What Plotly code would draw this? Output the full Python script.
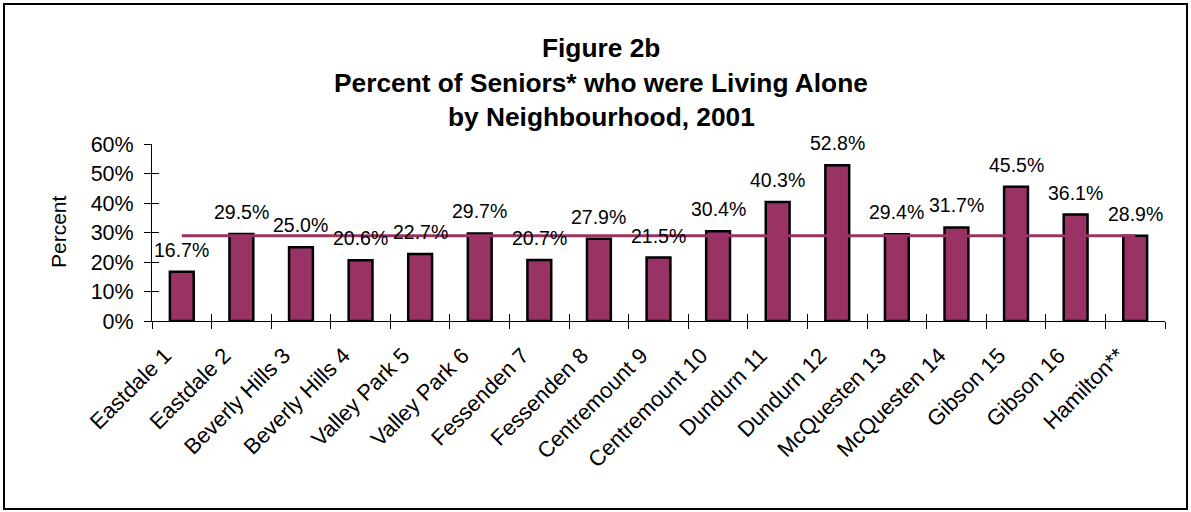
import plotly.graph_objects as go

# data
neighbourhoods = [
    "Eastdale 1", "Eastdale 2", "Beverly Hills 3", "Beverly Hills 4",
    "Valley Park 5", "Valley Park 6", "Fessenden 7", "Fessenden 8",
    "Centremount 9", "Centremount 10", "Dundurn 11", "Dundurn 12",
    "McQuesten 13", "McQuesten 14", "Gibson 15", "Gibson 16", "Hamilton**",
]
pct_alone = [16.7, 29.5, 25.0, 20.6, 22.7, 29.7, 20.7, 27.9, 21.5,
             30.4, 40.3, 52.8, 29.4, 31.7, 45.5, 36.1, 28.9]
hamilton_avg = 28.9
title_lines = [
    "Figure 2b",
    "Percent of Seniors* who were Living Alone",
    "by Neighbourhood, 2001",
]
y_ticks = [0, 10, 20, 30, 40, 50, 60]

# page geometry (pixels)
W, H = 1191, 512
L, R, T, B = 152, 26, 144, 191
PW, PH = W - L - R, H - T - B


def px_x(p):
    return (p - L) / PW


def px_y(p):
    return (H - B - p) / PH


BAR = "#993366"
FONT = "Arial, Liberation Sans, sans-serif"

fig = go.Figure()
fig.add_trace(go.Bar(
    x=neighbourhoods, y=pct_alone,
    marker={"color": BAR, "line": {"color": "#000000", "width": 2.5}},
    hoverinfo="x+y", showlegend=False,
))
# Hamilton reference line (on overlay axes so ticks can cross the axis line)
fig.add_trace(go.Scatter(
    x=neighbourhoods, y=[hamilton_avg] * len(neighbourhoods),
    mode="lines", line={"color": BAR, "width": 3},
    xaxis="x2", yaxis="y2", showlegend=False, hoverinfo="skip",
))

# data labels above bars
for name, v in zip(neighbourhoods, pct_alone):
    fig.add_annotation(
        x=name, y=v, text=f"{v:.1f}%", showarrow=False,
        yanchor="middle", yshift=22,
        font={"size": 19.5, "color": "#000000", "family": FONT},
    )

# title lines
for line, ypix in zip(title_lines, [48, 83, 117]):
    fig.add_annotation(
        xref="paper", yref="paper", x=px_x(601), y=px_y(ypix),
        text=f"<b>{line}</b>", showarrow=False,
        xanchor="center", yanchor="middle",
        font={"size": 26.3, "color": "#000000", "family": FONT},
    )

# y-axis title
fig.add_annotation(
    xref="paper", yref="paper", x=px_x(58), y=px_y(232),
    text="Percent", showarrow=False, textangle=-90,
    xanchor="center", yanchor="middle",
    font={"size": 21, "color": "#000000", "family": FONT},
)

# outer chart border
fig.add_shape(
    type="rect", xref="paper", yref="paper",
    x0=px_x(4), x1=px_x(1187), y0=px_y(509), y1=px_y(4),
    line={"color": "#000000", "width": 2},
)

axis_common = {"showgrid": False, "zeroline": False, "tickcolor": "#000000",
               "ticklen": 7, "tickwidth": 1}

fig.update_layout(
    width=W, height=H,
    margin={"l": L, "r": R, "t": T, "b": B, "autoexpand": False},
    paper_bgcolor="#FFFFFF", plot_bgcolor="#FFFFFF",
    font={"family": FONT, "color": "#000000"},
    bargap=0.6,
    xaxis={**axis_common, "type": "category", "range": [-0.5, 16.5],
           "ticks": "outside", "tickson": "boundaries",
           "showline": True, "linecolor": "#000000", "linewidth": 1,
           "tickangle": -45, "tickfont": {"size": 22},
           "ticklabelshift": -17, "ticklabelstandoff": 12},
    yaxis={**axis_common, "range": [0, 60], "tickvals": y_ticks,
           "ticktext": [f"{t}%" for t in y_ticks], "ticks": "outside",
           "showline": True, "linecolor": "#000000", "linewidth": 1,
           "tickfont": {"size": 21.5}, "ticklabelstandoff": 6},
    xaxis2={**axis_common, "type": "category", "range": [-0.5, 16.5],
            "overlaying": "x", "anchor": "y", "side": "bottom",
            "ticks": "inside", "tickson": "boundaries",
            "showticklabels": False, "showline": False},
    yaxis2={**axis_common, "range": [0, 60], "tickvals": y_ticks,
            "overlaying": "y", "anchor": "x", "side": "left",
            "ticks": "inside", "showticklabels": False, "showline": False},
)

fig.write_html("out.html", config={"displayModeBar": False},
               post_script="document.body.style.margin='0px';")
